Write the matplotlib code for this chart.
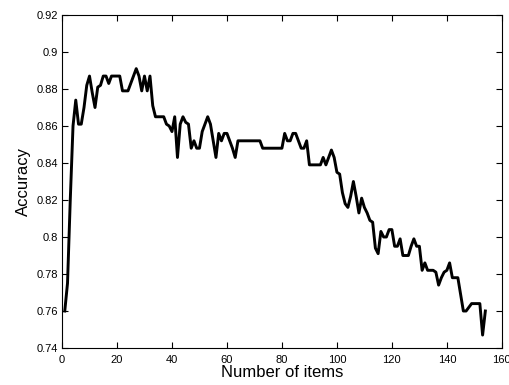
import numpy as np
import matplotlib.pyplot as plt

plt.rcParams['font.family'] = ['Liberation Sans', 'DejaVu Sans']

# accuracy as a function of the number of items used
n_items = np.arange(1, 155)
accuracy = [
    0.760, 0.775, 0.820, 0.860, 0.874, 0.861, 0.861, 0.870, 0.882, 0.887,
    0.878, 0.870, 0.881, 0.882, 0.887, 0.887, 0.883, 0.887, 0.887, 0.887,
    0.887, 0.879, 0.879, 0.879, 0.883, 0.887, 0.891, 0.887, 0.879, 0.887,
    0.879, 0.887, 0.871, 0.865, 0.865, 0.865, 0.865, 0.861, 0.860, 0.857,
    0.865, 0.843, 0.861, 0.865, 0.862, 0.861, 0.848, 0.852, 0.848, 0.848,
    0.857, 0.861, 0.865, 0.861, 0.852, 0.843, 0.856, 0.852, 0.856, 0.856,
    0.852, 0.848, 0.843, 0.852, 0.852, 0.852, 0.852, 0.852, 0.852, 0.852,
    0.852, 0.852, 0.848, 0.848, 0.848, 0.848, 0.848, 0.848, 0.848, 0.848,
    0.856, 0.852, 0.852, 0.856, 0.856, 0.852, 0.848, 0.848, 0.852, 0.839,
    0.839, 0.839, 0.839, 0.839, 0.843, 0.839, 0.843, 0.847, 0.843, 0.835,
    0.834, 0.824, 0.818, 0.816, 0.822, 0.830, 0.822, 0.813, 0.821, 0.816,
    0.813, 0.809, 0.808, 0.794, 0.791, 0.803, 0.800, 0.800, 0.804, 0.804,
    0.795, 0.795, 0.799, 0.790, 0.790, 0.790, 0.795, 0.799, 0.795, 0.795,
    0.782, 0.786, 0.782, 0.782, 0.782, 0.781, 0.774, 0.778, 0.781, 0.782,
    0.786, 0.778, 0.778, 0.778, 0.769, 0.760, 0.760, 0.762, 0.764, 0.764,
    0.764, 0.764, 0.747, 0.760,
]

fig = plt.figure(figsize=(5.1, 3.85), dpi=100)
ax = fig.add_axes([0.1216, 0.0961, 0.8624, 0.8649])
ax.plot(n_items, accuracy, color='black', linewidth=2.1)

ax.set_xlim(0, 160)
ax.set_ylim(0.74, 0.92)
ax.set_xticks(np.arange(0, 161, 20))
ax.set_yticks(np.arange(0.74, 0.921, 0.02))
ax.set_yticklabels(['0.74', '0.76', '0.78', '0.8', '0.82', '0.84', '0.86', '0.88', '0.9', '0.92'])
ax.tick_params(axis='x', direction='in', top=True, labelsize=8, length=4, pad=5)
ax.tick_params(axis='y', direction='in', right=True, labelsize=8, length=4, pad=3)
for s in ax.spines.values():
    s.set_linewidth(0.8)

ax.set_xlabel('Number of items', fontsize=12, labelpad=0)
ax.set_ylabel('Accuracy', fontsize=12, labelpad=4)

fig.savefig('out.png', dpi=100)
